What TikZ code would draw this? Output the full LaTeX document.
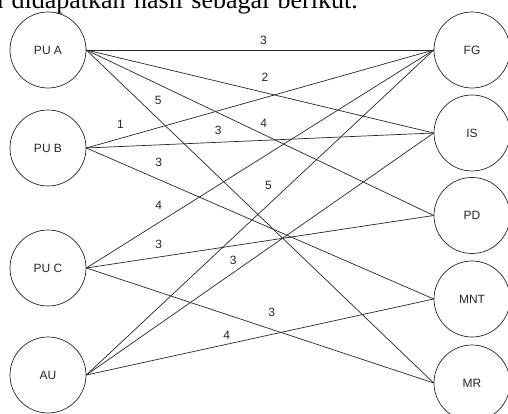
\documentclass[tikz,border=0pt]{standalone}
\usepackage{fontspec}
\setmainfont{Liberation Serif}
\setsansfont{Liberation Sans}
\usepackage{tikz}

\begin{document}
\begin{tikzpicture}[x=1pt, y=1pt, line width=0.7pt, color=black!85,
        unit/.style={circle, draw, minimum size=76pt, inner sep=0pt,
        font=\sffamily\fontsize{12}{14}\selectfont},
        wt/.style={inner sep=0pt, font=\sffamily\fontsize{12}{14}\selectfont}]
        \useasboundingbox (0,0) rectangle (508,414);
        \clip (0,0) rectangle (508,414);
        \node[anchor=base west, inner sep=0pt, text=black,
        font=\rmfamily\fontsize{26}{30}\selectfont] (intro) at (-10,405)
        {\spaceskip=8.3pt n didapatkan hasil sebagai berikut.};
        \node[unit] (pua) at (48,364) {PU A};
        \node[unit] (pub) at (48,266) {PU B};
        \node[unit] (puc) at (48,146) {PU C};
        \node[unit] (au) at (48,39) {AU};
        \node[unit] (fg) at (472,364) {FG};
        \node[unit] (is) at (472,281) {IS};
        \node[unit] (pd) at (472,198.5) {PD};
        \node[unit] (mnt) at (472,115) {MNT};
        \node[unit] (mr) at (472,31) {MR};
        \draw (pua.east) -- node[wt, pos=.51, yshift=10pt] {3} (fg.west);
        \draw (pua.east) -- node[wt, pos=.514, yshift=15.7pt] {2} (is.west);
        \draw (pua.east) -- node[wt, pos=.511, yshift=11.4pt] {4} (pd.west);
        \draw (pua.east) -- node[wt, pos=.207, yshift=18.7pt] {5} (mr.west);
        \draw (pub.east) -- node[wt, pos=.098, yshift=14.4pt] {1} (fg.west);
        \draw (pub.east) -- node[wt, pos=.38, yshift=11.6pt] {3} (is.west);
        \draw (pub.east) -- node[wt, pos=.208, yshift=17.5pt] {3} (mnt.west);
        \draw (puc.east) -- node[wt, pos=.208, yshift=17.7pt] {4} (fg.west);
        \draw (puc.east) -- node[wt, pos=.208, yshift=13.1pt] {3} (pd.west);
        \draw (puc.east) -- node[wt, pos=.534, yshift=16.7pt] {3} (mr.west);
        \draw (au.east) -- node[wt, pos=.524, yshift=19.7pt] {5} (fg.west);
        \draw (au.east) -- node[wt, pos=.423, yshift=12.6pt] {3} (is.west);
        \draw (au.east) -- node[wt, pos=.404, yshift=9.3pt] {4} (mnt.west);
\end{tikzpicture}
\end{document}
